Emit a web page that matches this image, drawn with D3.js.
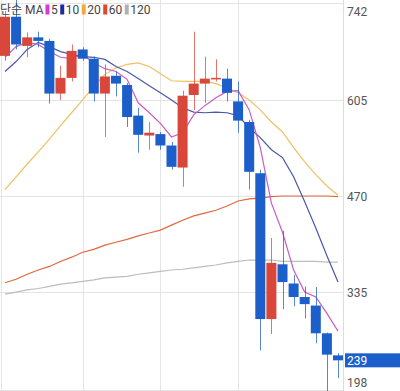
<!DOCTYPE html>
<html>
<head>
<meta charset="utf-8">
<script src="https://cdn.jsdelivr.net/npm/d3@7"></script>
<style>
body { margin: 0; background: #fff; }
svg { display: block; font-family: Roboto, "Noto Sans CJK KR", sans-serif; }
</style>
</head>
<body>
<script>
// daily candles, oldest first (red = up, blue = down)
const opens  = [667, 722, 681, 693, 688, 614, 636, 676, 663, 614, 639, 626, 583, 555, 557, 541, 510, 612, 628, 634, 635, 603, 574, 502, 297, 374, 347, 328, 316, 277, 246];
const highs  = [730, 746, 700, 701, 691, 653, 683, 679, 666, 655, 645, 629, 594, 574, 560, 546, 618, 701, 666, 662, 649, 631, 577, 507, 411, 421, 359, 343, 342, 278, 249];
const lows   = [660, 676, 665, 679, 600, 605, 631, 660, 603, 553, 610, 567, 531, 535, 535, 507, 483, 591, 601, 631, 603, 559, 479, 253, 276, 311, 315, 298, 263, 195, 214];
const closes = [722, 683, 693, 688, 614, 636, 674, 663, 614, 638, 628, 581, 556, 559, 541, 511, 611, 628, 635, 636, 615, 576, 504, 297, 376, 349, 328, 318, 277, 247, 239];

// simple moving averages
const ma5   = [665, 680, 686, 683, 673, 665, 663, 669, 657, 649, 645, 634, 601, 587, 572, 553, 559, 584, 597, 608, 617, 618, 591, 538, 460, 419, 366, 335, 328, 305, 280];
const ma10  = [645, 659, 676, 686, 680, 673, 669, 666, 665, 662, 652, 645, 635, 625, 615, 605, 594, 588, 587, 588, 587, 583, 566, 552, 535, 524, 497, 462, 425, 386, 349];
const ma20  = [479, 497, 515, 532, 550, 569, 587, 605, 624, 641, 650, 655, 657, 652, 642, 632, 631, 631, 631, 628, 622, 615, 605, 591, 574, 560, 538, 518, 500, 484, 471];
const ma60  = [348, 353, 360, 366, 371, 378, 384, 391, 395, 401, 405, 409, 414, 418, 422, 429, 436, 442, 446, 450, 456, 463, 466, 467, 469, 470, 470, 470, 470, 470, 469];
const ma120 = [332, 335, 338, 340, 343, 346, 348, 350, 352, 355, 356, 357, 360, 362, 364, 366, 367, 369, 371, 373, 376, 378, 380, 380, 380, 378, 378, 378, 378, 377, 377];

const yTicks = [742, 605, 470, 335, 198];
const gridCandles = [7, 14, 21];
const legendLabels = ['5', '10', '20', '60', '120'];
const lastPrice = 239;

const width = 400, height = 391;
const plotRight = 343;
const upColor = '#d9473b', downColor = '#1c5fca';
const legendColors = ['#d63ad1', '#1d2d9e', '#f2a93b', '#e3472b', '#b0b0b0'];
const lineColors = ['#c85cc8', '#4a58a8', '#efc164', '#e0683f', '#bdbdbd'];

const svg = d3.select('body').append('svg')
    .attr('width', width)
    .attr('height', height);

const x = d3.scaleLinear().domain([0, opens.length - 1]).range([5, 338]);
const y = d3.scaleLinear().domain([198, 742]).range([389.5, 2.5]);
const bodyWidth = 10;

// grid
const grid = svg.append('g').attr('stroke', '#e4e4e4').attr('stroke-width', 1);
grid.selectAll('.hgrid').data(yTicks).enter().append('line')
    .attr('x1', 0).attr('x2', plotRight)
    .attr('y1', d => Math.round(y(d)) + 0.5).attr('y2', d => Math.round(y(d)) + 0.5);
grid.selectAll('.vgrid').data(gridCandles).enter().append('line')
    .attr('x1', d => Math.round(x(d)) + 0.5).attr('x2', d => Math.round(x(d)) + 0.5)
    .attr('y1', 0).attr('y2', height);
grid.append('line').attr('x1', 1.5).attr('x2', 1.5).attr('y1', 0).attr('y2', height);
grid.append('line').attr('x1', plotRight + 0.5).attr('x2', plotRight + 0.5)
    .attr('y1', 0).attr('y2', height).attr('stroke', '#dcdcdc');

svg.append('clipPath').attr('id', 'plot-clip')
    .append('rect').attr('x', 0).attr('y', 0).attr('width', plotRight).attr('height', height);
const plot = svg.append('g').attr('clip-path', 'url(#plot-clip)');

// moving average lines (under the candles)
const maSeries = [ma5, ma10, ma20, ma60, ma120];
const line = d3.line().x((d, i) => x(i)).y(d => y(d));
maSeries.slice().reverse().forEach((series, k) => {
    const idx = maSeries.length - 1 - k;
    plot.append('path')
        .datum(series)
        .attr('fill', 'none')
        .attr('stroke', lineColors[idx])
        .attr('stroke-width', 1.2)
        .attr('d', line);
});

// candles
const candles = d3.range(opens.length).map(i => ({
    i, open: opens[i], high: highs[i], low: lows[i], close: closes[i]
}));
const candle = plot.selectAll('.candle').data(candles).enter().append('g')
    .attr('fill', d => d.close >= d.open ? upColor : downColor)
    .attr('stroke', d => d.close >= d.open ? upColor : downColor);
candle.append('line')
    .attr('x1', d => Math.round(x(d.i)) + 0.5).attr('x2', d => Math.round(x(d.i)) + 0.5)
    .attr('y1', d => y(d.high)).attr('y2', d => y(d.low))
    .attr('stroke-width', 1).attr('stroke-opacity', 0.75);
candle.append('rect')
    .attr('x', d => x(d.i) - bodyWidth / 2)
    .attr('width', bodyWidth)
    .attr('y', d => y(Math.max(d.open, d.close)))
    .attr('height', d => Math.max(1.5, Math.abs(y(d.open) - y(d.close))))
    .attr('stroke', 'none');

// price axis on the right
const axis = svg.append('g')
    .attr('transform', `translate(${plotRight + 4},0)`)
    .call(d3.axisRight(y).tickValues(yTicks).tickSize(0).tickPadding(0));
axis.select('.domain').remove();
axis.selectAll('text')
    .attr('fill', '#555')
    .style('font-size', '12px')
    .style('font-family', 'Roboto, sans-serif')
    .attr('dy', d => d === 742 ? '1.05em' : d === 198 ? '-0.25em' : '0.35em');

// last price tag
const tag = svg.append('g').attr('transform', `translate(${plotRight + 2},${y(lastPrice)})`);
tag.append('rect').attr('x', 0).attr('y', -7).attr('width', width - plotRight).attr('height', 14)
    .attr('fill', downColor);
tag.append('text').attr('x', 2).attr('dy', '0.36em')
    .attr('fill', '#fff').style('font-size', '12px').text(lastPrice);

// legend
const legend = svg.append('g').attr('transform', 'translate(0,14)')
    .style('font-size', '12px').attr('fill', '#444');
let cursor = 0;
const title = legend.append('text').attr('x', cursor).text('단순 MA');
cursor += title.node().getComputedTextLength() + 2;
legendLabels.forEach((label, k) => {
    legend.append('rect').attr('x', cursor).attr('y', -9.5).attr('width', 4).attr('height', 10)
        .attr('fill', legendColors[k]);
    cursor += 5.5;
    const t = legend.append('text').attr('x', cursor).text(label);
    cursor += t.node().getComputedTextLength() + 2.5;
});
</script>
</body>
</html>
